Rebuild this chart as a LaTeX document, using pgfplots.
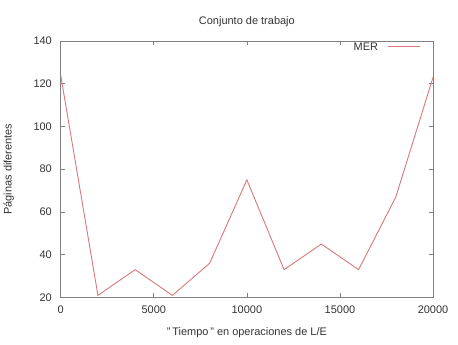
\documentclass[border=0pt]{standalone}
\usepackage{pgfplots}
\pgfplotsset{compat=1.18}
\usepackage{fontspec}
\setmainfont{Liberation Sans}
\definecolor{txt}{HTML}{333333}
\definecolor{frame}{HTML}{808080}
\definecolor{merc}{HTML}{D8787A}
\begin{document}
\fontsize{11bp}{13bp}\selectfont
\begin{tikzpicture}
\begin{axis}[
  scale only axis,
  width=373bp, height=257bp,
  xmin=0, xmax=20000, ymin=20, ymax=140,
  xtick={0,5000,10000,15000,20000},
  ytick={20,40,60,80,100,120,140},
  tick align=inside,
  major tick length=4bp,
  axis line style={frame, line width=0.8bp},
  tick style={frame, line width=0.6bp},
  /pgf/number format/assume math mode=true,
  /pgf/number format/1000 sep={},
  scaled x ticks=false,
  ticklabel style={text=txt, font=\fontsize{11bp}{13bp}\selectfont},
  xticklabel style={yshift=-5bp},
  yticklabel style={xshift=-5bp},
  title={Conjunto de trabajo},
  title style={text=txt, font=\fontsize{11bp}{13bp}\selectfont, yshift=4bp},
  xlabel={"\,Tiempo\,"\ en operaciones de L/E},
  ylabel={Páginas diferentes},
  label style={text=txt, font=\fontsize{11bp}{13bp}\selectfont},
  xlabel style={yshift=-6bp},
  ylabel style={yshift=12bp},
]
\addplot[color=merc, line width=0.9bp] coordinates {
 (0,124) (2000,21) (4000,33) (6000,21) (8000,36) (10000,75)
 (12000,33) (14000,45) (16000,33) (18000,67) (20000,123)
};
\node[anchor=east, text=txt, inner sep=0pt] at (axis description cs:0.853,0.977) {MER};
\draw[merc, line width=0.9bp] (axis description cs:0.879,0.977) -- (axis description cs:0.965,0.977);
\end{axis}
\useasboundingbox (-60bp,-47bp) rectangle (398bp,298bp);
\end{tikzpicture}
\end{document}
